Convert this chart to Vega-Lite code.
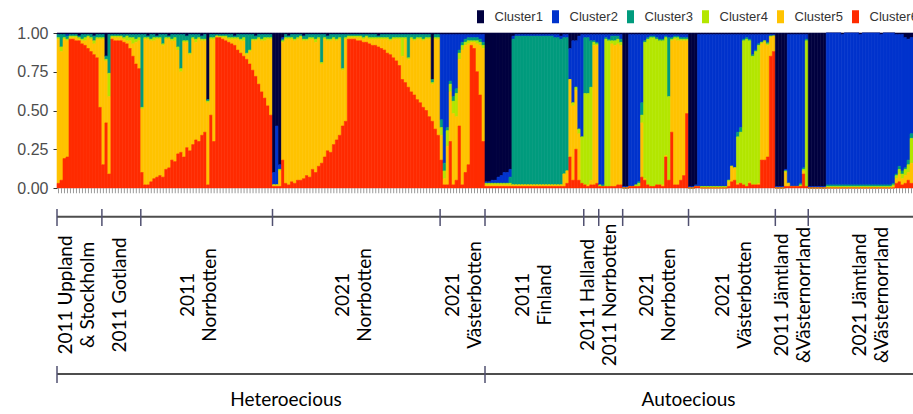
{
"$schema": "https://vega.github.io/schema/vega-lite/v6.json",
"width": 856, "height": 381,
"autosize": {"type": "none"},
"padding": {"left": 57, "top": 33, "right": 0, "bottom": 0},
"background": "white",
"config": {"view": {"stroke": null}, "font": "Liberation Sans"},
"data": {"format": {"type": "csv", "parse": {"i": "number", "Cluster1": "number", "Cluster2": "number", "Cluster3": "number", "Cluster4": "number", "Cluster5": "number", "Cluster6": "number"}},
"values": "i,Cluster1,Cluster2,Cluster3,Cluster4,Cluster5,Cluster6\n0,1,0,2,1,93,3\n1,1,0,8,3,83,5\n2,1,0,2,1,77,19\n3,1,1,2,1,75,20\n4,1,0,1,1,1,96\n5,1,0,1,1,1,96\n6,1,0,1,1,2,95\n7,2,0,1,1,1,95\n8,1,0,3,1,2,93\n9,1,0,2,2,3,92\n10,1,0,1,1,7,90\n11,1,0,2,1,8,88\n12,2,0,3,2,7,86\n13,1,0,2,1,12,84\n14,1,0,2,1,44,52\n15,1,0,2,1,81,15\n16,15,0,2,1,40,42\n17,1,0,25,15,50,9\n18,1,0,1,1,1,96\n19,1,0,1,1,2,95\n20,1,0,1,1,2,95\n21,1,0,1,1,2,95\n22,1,0,2,1,2,94\n23,1,0,1,3,2,93\n24,1,0,2,2,5,90\n25,1,0,2,4,8,85\n26,1,0,3,2,14,80\n27,1,0,2,2,18,77\n28,1,0,47,1,41,10\n29,1,0,2,1,94,2\n30,2,0,1,1,94,2\n31,1,0,3,1,91,4\n32,1,0,2,2,89,6\n33,2,0,1,1,89,7\n34,1,0,2,1,88,8\n35,1,0,6,1,85,7\n36,1,0,2,1,84,12\n37,2,0,1,1,83,13\n38,1,0,3,1,77,18\n39,1,0,2,2,78,17\n40,1,0,8,2,67,22\n41,1,0,22,2,52,23\n42,1,0,4,1,74,20\n43,2,0,3,1,68,26\n44,1,0,12,1,62,24\n45,1,0,2,1,68,28\n46,1,0,3,2,63,31\n47,1,0,2,1,66,30\n48,2,0,2,1,61,34\n49,1,0,3,1,59,36\n50,43,0,1,1,53,2\n51,1,0,2,1,49,47\n52,1,0,2,1,66,30\n53,1,0,1,0,1,97\n54,1,0,1,1,0,97\n55,1,0,1,1,1,96\n56,1,0,1,1,2,95\n57,1,0,2,1,2,94\n58,1,0,2,1,3,93\n59,2,0,1,1,4,92\n60,1,0,2,1,7,89\n61,1,0,3,1,8,87\n62,1,0,2,2,10,85\n63,1,0,12,1,3,83\n64,1,0,10,1,8,80\n65,1,0,3,1,19,76\n66,2,0,2,1,23,72\n67,1,0,2,1,29,67\n68,1,0,3,1,33,62\n69,1,0,2,2,37,58\n70,1,0,2,1,43,53\n71,1,0,2,1,49,47\n72,90,8,0,0,1,1\n73,60,38,0,0,1,1\n74,85,3,0,1,10,1\n75,3,1,1,1,76,18\n76,1,0,2,1,93,3\n77,2,0,1,1,94,2\n78,1,0,2,1,92,4\n79,1,0,3,1,92,3\n80,1,0,2,1,91,5\n81,1,0,1,1,92,5\n82,2,0,2,1,89,6\n83,1,0,3,1,87,8\n84,1,0,2,1,89,7\n85,1,0,2,1,84,12\n86,1,0,3,2,84,10\n87,1,0,2,1,82,14\n88,1,0,18,1,64,16\n89,1,0,2,1,76,20\n90,2,0,2,1,71,24\n91,1,0,3,1,72,23\n92,1,0,2,1,68,28\n93,1,0,3,1,64,31\n94,1,0,2,1,62,34\n95,1,0,22,1,36,40\n96,1,0,2,1,53,43\n97,1,0,1,1,1,96\n98,1,0,1,1,1,96\n99,1,0,1,1,1,96\n100,1,0,1,1,2,95\n101,1,0,1,1,2,95\n102,1,0,2,1,2,94\n103,1,0,1,1,3,94\n104,1,0,2,1,3,93\n105,1,0,2,1,4,92\n106,1,0,2,1,4,92\n107,2,0,1,1,5,91\n108,1,0,2,1,6,90\n109,1,0,2,1,7,89\n110,1,0,2,1,9,87\n111,1,0,3,1,9,86\n112,1,0,2,1,12,84\n113,1,0,2,1,14,82\n114,1,0,2,1,17,79\n115,1,0,2,12,15,70\n116,1,0,2,1,28,68\n117,1,0,15,1,18,65\n118,1,0,2,1,34,62\n119,1,0,3,1,35,60\n120,1,0,2,1,39,57\n121,1,0,2,1,41,55\n122,1,0,3,1,43,52\n123,1,0,2,1,46,50\n124,1,0,2,1,50,46\n125,30,0,2,1,24,43\n126,1,0,2,1,58,38\n127,1,0,2,1,62,34\n128,1,55,5,5,16,18\n129,1,83,5,5,4,2\n130,1,60,2,10,25,2\n131,1,30,2,5,32,30\n132,1,40,3,8,46,2\n133,1,35,3,15,41,5\n134,1,10,2,4,43,40\n135,1,5,2,3,87,2\n136,1,3,2,2,82,10\n137,1,2,2,2,78,15\n138,1,2,2,1,2,92\n139,1,2,2,1,4,90\n140,1,2,2,2,18,75\n141,1,3,2,2,32,60\n142,1,5,2,2,60,30\n143,96,1,0,1,1,1\n144,96,1,0,1,1,1\n145,95,2,0,1,1,1\n146,95,2,0,1,1,1\n147,93,4,0,1,1,1\n148,92,5,0,1,1,1\n149,90,7,0,1,1,1\n150,90,7,0,1,1,1\n151,88,5,4,1,1,1\n152,2,2,94,0,1,1\n153,1,1,96,0,1,1\n154,1,1,96,0,1,1\n155,1,1,96,0,1,1\n156,1,1,96,0,1,1\n157,1,1,96,0,1,1\n158,1,1,96,0,1,1\n159,1,1,96,0,1,1\n160,1,1,96,0,1,1\n161,1,1,96,0,1,1\n162,1,1,96,0,1,1\n163,1,1,96,0,1,1\n164,1,1,96,0,1,1\n165,1,1,96,0,1,1\n166,1,2,95,0,1,1\n167,1,2,95,0,1,1\n168,2,2,94,0,1,1\n169,1,2,88,0,8,1\n170,1,2,86,0,8,3\n171,10,20,0,0,50,20\n172,5,40,0,2,48,5\n173,5,30,0,2,38,25\n174,2,60,0,3,30,5\n175,1,66,0,30,0,3\n176,1,2,36,59,0,2\n177,1,2,36,59,1,1\n178,1,4,30,60,3,2\n179,1,4,1,2,90,2\n180,1,5,1,1,89,3\n181,1,97,0,1,0,1\n182,1,97,1,0,0,1\n183,1,2,1,95,0,1\n184,1,3,1,94,0,1\n185,1,1,3,2,92,1\n186,1,1,3,3,91,1\n187,1,1,2,3,91,2\n188,1,3,2,2,90,2\n189,99,1,0,0,0,0\n190,99,1,0,0,0,0\n191,1,98,0,0,0,1\n192,1,98,0,0,0,1\n193,1,97,0,1,0,1\n194,1,95,1,2,0,1\n195,1,44,8,5,35,7\n196,1,4,1,88,1,5\n197,1,2,1,94,0,2\n198,1,1,1,96,0,1\n199,1,1,1,96,0,1\n200,1,2,1,94,0,2\n201,1,3,1,93,0,2\n202,1,3,1,93,1,1\n203,1,1,1,76,1,20\n204,1,2,38,54,0,5\n205,1,2,1,1,59,36\n206,1,1,1,1,94,2\n207,1,1,1,2,93,2\n208,1,2,1,1,90,5\n209,1,2,1,1,87,8\n210,1,2,1,1,47,48\n211,99,1,0,0,0,0\n212,99,1,0,0,0,0\n213,98,1,0,0,0,1\n214,1,98,0,0,0,1\n215,1,98,0,1,0,0\n216,1,98,0,1,0,0\n217,1,98,0,1,0,0\n218,1,98,0,1,0,0\n219,1,98,0,1,0,0\n220,1,98,0,1,0,0\n221,1,98,0,1,0,0\n222,1,98,0,1,0,0\n223,1,98,0,1,0,0\n224,1,94,0,1,3,1\n225,1,85,0,0,10,4\n226,1,86,0,0,8,5\n227,1,63,3,30,1,2\n228,1,60,3,33,0,3\n229,1,3,1,93,0,2\n230,1,2,1,95,0,1\n231,1,3,1,91,1,3\n232,1,13,1,83,0,2\n233,1,10,1,86,0,2\n234,1,6,1,89,1,2\n235,1,5,0,1,75,18\n236,1,4,0,1,76,18\n237,1,5,1,1,72,20\n238,1,1,0,1,12,85\n239,1,1,0,0,10,88\n240,99,1,0,0,0,0\n241,99,1,0,0,0,0\n242,99,1,0,0,0,0\n243,88,1,0,1,9,1\n244,1,96,0,0,2,1\n245,1,98,0,0,0,1\n246,1,98,0,0,0,1\n247,1,98,0,0,0,1\n248,1,96,1,1,0,1\n249,1,86,1,1,2,9\n250,1,3,1,94,0,1\n251,99,1,0,0,0,0\n252,99,1,0,0,0,0\n253,99,1,0,0,0,0\n254,99,1,0,0,0,0\n255,99,1,0,0,0,0\n256,99,1,0,0,0,0\n257,0,98,1,1,0,0\n258,0,98,1,1,0,0\n259,0,98,1,1,0,0\n260,0,98,1,1,0,0\n261,0,98,1,1,0,0\n262,1,97,1,1,0,0\n263,0,98,1,1,0,0\n264,0,98,1,1,0,0\n265,0,98,1,1,0,0\n266,0,98,1,1,0,0\n267,0,98,1,1,0,0\n268,1,97,1,1,0,0\n269,0,98,1,1,0,0\n270,0,98,1,1,0,0\n271,0,98,1,1,0,0\n272,0,98,1,1,0,0\n273,0,98,1,1,0,0\n274,0,98,1,1,0,0\n275,1,97,1,1,0,0\n276,0,98,1,1,0,0\n277,0,98,1,1,0,0\n278,0,98,1,1,0,0\n279,0,97,1,1,1,0\n280,1,90,1,2,3,3\n281,1,85,2,3,5,4\n282,1,88,2,3,4,2\n283,3,84,1,4,5,3\n284,4,78,3,5,5,5\n285,3,62,3,16,13,3"},
"resolve": {"scale": {"x": "independent"}},
"layer": [
{
"transform": [{"fold": ["Cluster1", "Cluster2", "Cluster3", "Cluster4", "Cluster5", "Cluster6"], "as": ["key", "value"]}],
"mark": {"type": "bar", "strokeWidth": 0.6},
"encoding": {
"x": {"field": "i", "type": "ordinal", "scale": {"paddingInner": 0, "paddingOuter": 0}, "axis": null},
"y": {"field": "value", "type": "quantitative", "stack": "normalize", "scale": {"domain": [-1.458, 1], "nice": false, "zero": false},
"axis": {"values": [0, 0.25, 0.5, 0.75, 1], "labelExpr": "format(datum.value, '.2f')", "title": null, "domain": false, "grid": false, "tickColor": "#333333", "tickSize": 4, "labelFont": "Liberation Sans", "labelFontSize": 16, "labelColor": "#4d4d4d", "labelPadding": 5}},
"color": {"field": "key", "type": "nominal",
"scale": {"domain": ["Cluster1", "Cluster2", "Cluster3", "Cluster4", "Cluster5", "Cluster6"], "range": ["#00003f", "#0033cc", "#009b7d", "#b3e600", "#ffc300", "#ff2b00"]},
"legend": {"title": null, "orient": "none", "legendX": 417, "legendY": -23, "direction": "horizontal", "columns": 6, "padding": 0, "symbolType": "M-0.54,-1H0.54V1H-0.54Z", "symbolSize": 169, "symbolStrokeWidth": 0, "labelOffset": 7.5, "columnPadding": 6, "labelFont": "Liberation Sans", "labelFontSize": 13, "labelColor": "#333333"}},
"stroke": {"field": "key", "type": "nominal", "scale": {"domain": ["Cluster1", "Cluster2", "Cluster3", "Cluster4", "Cluster5", "Cluster6"], "range": ["#00003f", "#0033cc", "#009b7d", "#b3e600", "#ffc300", "#ff2b00"]}, "legend": null},
"order": {"field": "key", "type": "ordinal", "sort": "descending"}
}
},
{
"mark": {"type": "rule", "color": "#9a9a9a", "strokeWidth": 1},
"encoding": {
"x": {"field": "i", "type": "ordinal", "axis": null},
"y": {"datum": 0},
"y2": {"datum": -0.034}
}
},
{
"data": {"values": [{"level": 1}]},
"mark": {"type": "rule", "color": "#4d4d4d", "strokeWidth": 2},
"encoding": {"y": {"datum": -0.185}}
},
{
"data": {"values": [{"level": 2}]},
"mark": {"type": "rule", "color": "#4d4d4d", "strokeWidth": 2},
"encoding": {"y": {"datum": -1.2}}
},
{
"data": {"values": [{"pos": 0}, {"pos": 15}, {"pos": 28}, {"pos": 72}, {"pos": 128}, {"pos": 143}, {"pos": 176}, {"pos": 181}, {"pos": 189}, {"pos": 211}, {"pos": 240}, {"pos": 251}]},
"mark": {"type": "rule", "color": "#505070", "strokeWidth": 1.5},
"encoding": {
"x": {"field": "pos", "type": "quantitative", "scale": {"domain": [0, 286], "nice": false, "zero": false}, "axis": null},
"y": {"datum": -0.135},
"y2": {"datum": -0.245}
}
},
{
"data": {"values": [{"pos": 0}, {"pos": 143}]},
"mark": {"type": "rule", "color": "#505070", "strokeWidth": 1.5},
"encoding": {
"x": {"field": "pos", "type": "quantitative", "scale": {"domain": [0, 286], "nice": false, "zero": false}, "axis": null},
"y": {"datum": -1.148},
"y2": {"datum": -1.258}
}
},
{
"data": {"values": [
{"at": 3.0, "label": ["2011 Uppland", "& Stockholm"]},
{"at": 21.0, "label": ["2011 Gotland"]},
{"at": 43.8, "label": ["2011", "Norrbotten"]},
{"at": 95.6, "label": ["2021", "Norrbotten"]},
{"at": 132.3, "label": ["2021", "Västerbotten"]},
{"at": 155.7, "label": ["2011", "Finland"]},
{"at": 177.4, "label": ["2011 Halland"]},
{"at": 184.8, "label": ["2011 Norrbotten"]},
{"at": 197.1, "label": ["2021", "Norrbotten"]},
{"at": 222.5, "label": ["2021", "Västerbotten"]},
{"at": 242.2, "label": ["2011 Jämtland", "&Västernorrland"]},
{"at": 268.3, "label": ["2021 Jämtland", "&Västernorrland"]}
]},
"mark": {"type": "text", "angle": 270, "align": "center", "baseline": "middle", "font": "Lato", "fontSize": 19, "lineHeight": 22, "color": "#000000"},
"encoding": {
"x": {"field": "at", "type": "quantitative", "scale": {"domain": [0, 286], "nice": false, "zero": false}, "axis": null},
"y": {"datum": -0.69},
"text": {"field": "label"}
}
},
{
"data": {"values": [{"at": 76.5, "label": "Heteroecious"}, {"at": 211.0, "label": "Autoecious"}]},
"mark": {"type": "text", "align": "center", "baseline": "middle", "font": "Lato", "fontSize": 19, "color": "#000000"},
"encoding": {
"x": {"field": "at", "type": "quantitative", "scale": {"domain": [0, 286], "nice": false, "zero": false}, "axis": null},
"y": {"datum": -1.368},
"text": {"field": "label"}
}
}
]
}
